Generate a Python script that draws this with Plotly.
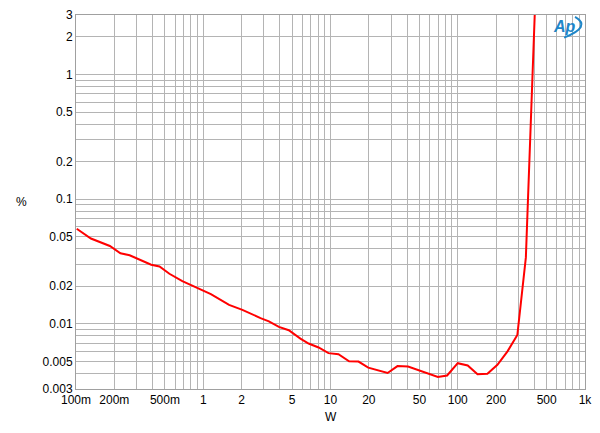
import numpy as np
import plotly.graph_objects as go

# Data (power in W, THD+N in %)
power_w = [0.1013, 0.131, 0.1845, 0.2234, 0.264, 0.390, 0.453, 0.542, 0.685, 0.931,
           1.148, 1.596, 2.03, 2.82, 3.28, 3.93, 4.70, 5.80, 6.73, 8.06,
           9.64, 11.55, 14.0, 16.6, 19.8, 28.1, 33.6, 40.7, 69.8, 82.5,
           100, 119.7, 143, 171, 205, 246, 294, 343, 403, 410]
thd_pct = [0.0579, 0.0483, 0.0421, 0.0368, 0.0355, 0.0298, 0.0288, 0.0252, 0.0220, 0.01897,
           0.0173, 0.01418, 0.01295, 0.01112, 0.01047, 0.00945, 0.00889, 0.00760, 0.00695, 0.00646,
           0.00582, 0.00571, 0.00501, 0.00498, 0.00445, 0.00403, 0.00458, 0.00455, 0.00375, 0.00385,
           0.00483, 0.00463, 0.00394, 0.00398, 0.00469, 0.00601, 0.00813, 0.0341, 3.0, 5.0]

x_label_vals = [0.1, 0.2, 0.5, 1, 2, 5, 10, 20, 50, 100, 200, 500, 1000]
x_label_text = ["100m", "200m", "500m", "1", "2", "5", "10", "20", "50", "100", "200", "500", "1k"]
y_label_vals = [0.003, 0.005, 0.01, 0.02, 0.05, 0.1, 0.2, 0.5, 1, 2, 3]
y_label_text = ["0.003", "0.005", "0.01", "0.02", "0.05", "0.1", "0.2", "0.5", "1", "2", "3"]


def grid_ticks(lo_exp, hi_exp, vmin, vmax, label_vals, label_text):
    vals, texts = [], []
    for e in range(lo_exp, hi_exp + 1):
        for m in range(1, 10):
            v = round(m * 10 ** e, 10)
            if vmin * 0.999 <= v <= vmax * 1.001:
                vals.append(v)
                txt = ""
                for lv, lt in zip(label_vals, label_text):
                    if abs(lv - v) / lv < 1e-6:
                        txt = lt
                texts.append(txt)
    return vals, texts


xtv, xtt = grid_ticks(-1, 3, 0.1, 1000, x_label_vals, x_label_text)
ytv, ytt = grid_ticks(-3, 0, 0.003, 3, y_label_vals, y_label_text)

fig = go.Figure()
fig.add_trace(go.Scatter(x=power_w, y=thd_pct, mode="lines",
                         line=dict(color="#ff0000", width=2), showlegend=False))

font = dict(family="Liberation Sans, Arial, sans-serif", size=12, color="#000000")
grid_col = "#b4b4b4"

# plot-area pixel geometry for paper-coordinate helpers
L, T, W_, H_ = 76, 8, 512, 381


def px(xp, yp):
    return (xp - L) / W_, (T + H_ - yp) / H_


a0 = px(578, 10)
a1 = px(595, 20)
a2 = px(567, 31)
logo_path = f"M {a0[0]},{a0[1]} Q {a1[0]},{a1[1]} {a2[0]},{a2[1]}"

fig.update_layout(
    width=600, height=433,
    margin=dict(l=L, r=600 - L - W_, t=T, b=433 - T - H_),
    paper_bgcolor="white", plot_bgcolor="white",
    font=font,
    xaxis=dict(type="log", range=[-1, 3], tickmode="array", tickvals=xtv, ticktext=xtt,
               showgrid=True, gridcolor=grid_col, gridwidth=1, ticks="",
               showline=True, linecolor="#a0a0a0", mirror=True, zeroline=False,
               tickfont=font),
    yaxis=dict(type="log", range=[np.log10(0.003), np.log10(3)], tickmode="array",
               tickvals=ytv, ticktext=ytt,
               showgrid=True, gridcolor=grid_col, gridwidth=1, ticks="",
               showline=True, linecolor="#a0a0a0", mirror=True, zeroline=False,
               tickfont=font),
    shapes=[dict(type="path", xref="paper", yref="paper", path=logo_path,
                 line=dict(color="#1f86c8", width=2))],
    annotations=[
        dict(text="%", x=-0.1074, y=0.501, xref="paper", yref="paper", showarrow=False,
             font=font, xanchor="center", yanchor="middle"),
        dict(text="W", x=0.5, y=-0.076, xref="paper", yref="paper", showarrow=False,
             font=font, xanchor="center", yanchor="middle"),
        dict(text="<b><i>Ap</i></b>", x=px(567, 20)[0], y=px(567, 20)[1],
             xref="paper", yref="paper",
             showarrow=False, xanchor="center", yanchor="middle",
             font=dict(family="Liberation Sans, Arial, sans-serif", size=16, color="#1f86c8")),
    ],
)

fig.write_html("out.html")
